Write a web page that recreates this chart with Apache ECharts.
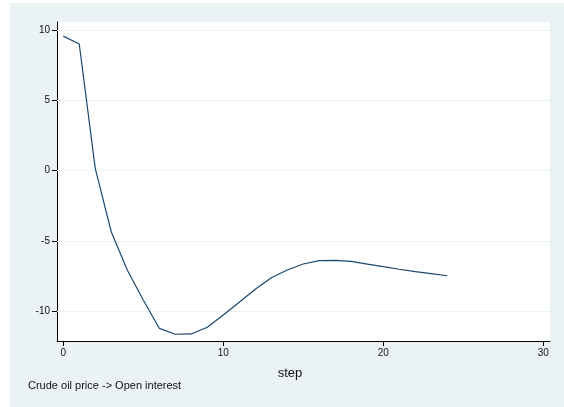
<!DOCTYPE html>
<html>
<head>
<meta charset="utf-8">
<script src="https://cdn.jsdelivr.net/npm/echarts@6/dist/echarts.min.js"></script>
<style>
html,body{margin:0;padding:0;background:#fff;}
#c{width:564px;height:407px;}
</style>
</head>
<body>
<div id="c"></div>
<script>
const steps = [0,1,2,3,4,5,6,7,8,9,10,11,12,13,14,15,16,17,18,19,20,21,22,23,24];
const irf = [9.55,8.99,0.17,-4.33,-7.04,-9.17,-11.18,-11.6,-11.58,-11.1,-10.23,-9.33,-8.41,-7.59,-7.04,-6.62,-6.38,-6.36,-6.43,-6.62,-6.81,-6.99,-7.16,-7.30,-7.45];
const xTicks = [0,10,20,30];
const yTicks = [-10,-5,0,5,10];
const caption = 'Crude oil price -> Open interest';
const xTitle = 'step';

const chart = echarts.init(document.getElementById('c'), null, {renderer:'canvas'});
const font = 'Liberation Sans, Arial, sans-serif';
chart.setOption({
  animation:false,
  backgroundColor:'#fff',
  graphic:[{type:'rect', z:-10, shape:{x:10,y:3,width:554,height:404}, style:{fill:'#EAF2F3'}}],
  title:{text:caption, left:28, top:380, padding:0, textStyle:{fontFamily:font, fontSize:11, fontWeight:'normal', color:'#111'}},
  grid:{left:57, right:14, top:22, bottom:66, show:true, backgroundColor:'#fff', borderWidth:0, containLabel:false},
  xAxis:{
    type:'value', min:-0.39, max:30.42,
    name:xTitle, nameLocation:'middle', nameGap:26,
    nameTextStyle:{fontFamily:font, fontSize:13, color:'#111', padding:[0,27,0,0]},
    axisLine:{show:true, onZero:false, lineStyle:{color:'#000', width:1}},
    axisTick:{show:true, length:5, lineStyle:{color:'#000'}, customValues:xTicks},
    axisLabel:{fontFamily:font, fontSize:10, color:'#111', margin:7, customValues:xTicks, formatter:v=>String(v)},
    splitLine:{show:false}
  },
  yAxis:{
    type:'value', min:-12.08, max:10.55,
    axisLine:{show:true, onZero:false, lineStyle:{color:'#000', width:1}},
    axisTick:{show:true, length:5, lineStyle:{color:'#000'}, customValues:yTicks},
    axisLabel:{fontFamily:font, fontSize:10, color:'#111', margin:7, customValues:yTicks, formatter:v=>String(v)},
    splitLine:{show:false}
  },
  series:[{
    type:'line', data:steps.map((s,i)=>[s,irf[i]]), showSymbol:false, symbol:'none',
    lineStyle:{color:'#1a476f', width:1.2},
    markLine:{silent:true, symbol:'none', label:{show:false}, z:1,
      lineStyle:{color:'#EAF2F3', type:'solid', width:1.2},
      data:yTicks.map(v=>({yAxis:v}))}
  }]
});
</script>
</body>
</html>
